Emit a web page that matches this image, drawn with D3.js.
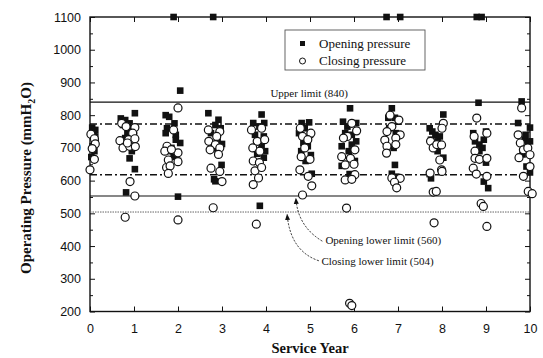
<!DOCTYPE html>
<html>
<head>
<meta charset="utf-8">
<script src="https://cdn.jsdelivr.net/npm/d3@7"></script>
<style>
  body { margin: 0; background: #fff; }
  text { fill: #111; }
</style>
</head>
<body>
<svg id="chart" width="543" height="358"></svg>
<script>
// [service year, pressure in mmH2O]; 1100 = off-scale reading pinned to the top
const openingPressure = [
  [0.05, 762], [0.12, 755], [0.08, 740], [0.13, 720], [0.06, 705], [0.1, 690], [0.03, 672], [0.12, 735],
  [0.7, 790], [0.8, 785], [1.02, 806], [0.75, 770], [0.9, 775], [0.95, 760], [0.85, 745], [1.0, 740],
  [0.8, 730], [0.9, 668], [1.02, 635], [0.82, 564], [0.95, 690],
  [1.9, 1100], [2.05, 875], [1.72, 800], [1.8, 795], [1.92, 775], [1.75, 760], [1.72, 745], [1.95, 740],
  [2.05, 715], [1.85, 700], [1.9, 673], [2.0, 660], [1.78, 690], [2.0, 551], [1.95, 725],
  [2.8, 1100], [2.69, 806], [2.92, 786], [2.85, 770], [2.97, 760], [2.75, 745], [2.9, 725], [3.0, 712],
  [2.8, 700], [2.99, 648], [2.82, 604], [2.85, 598], [2.9, 690],
  [3.9, 802], [3.71, 776], [3.96, 776], [3.85, 765], [3.75, 740], [3.95, 735], [3.9, 705], [3.98, 690],
  [3.8, 682], [3.86, 523], [3.95, 670],
  [4.81, 776], [4.98, 778], [4.88, 760], [4.75, 745], [5.0, 740], [4.85, 715], [4.95, 705], [4.8, 690],
  [5.02, 678], [4.9, 660], [5.04, 621], [4.92, 730],
  [5.91, 821], [5.75, 780], [6.05, 776], [5.85, 765], [5.8, 745], [5.95, 740], [6.05, 720], [5.72, 705],
  [5.88, 690], [6.02, 660], [5.72, 645], [5.9, 620], [5.95, 710],
  [6.74, 1100], [7.05, 1100], [6.86, 821], [6.78, 792], [6.93, 792], [7.0, 780], [6.8, 760], [6.95, 745],
  [6.72, 720], [6.9, 700], [6.93, 648], [6.86, 621], [6.96, 612],
  [8.03, 802], [7.72, 760], [7.78, 750], [7.85, 740], [7.75, 725], [7.95, 735], [7.8, 705], [7.9, 690],
  [8.03, 670], [7.72, 620], [7.75, 607], [7.9, 720],
  [8.79, 1100], [8.9, 1100], [8.83, 838], [8.71, 745], [9.0, 750], [8.75, 720], [8.95, 725], [8.85, 710],
  [8.92, 700], [9.0, 655], [8.95, 597], [9.05, 577], [8.85, 690],
  [9.81, 842], [9.73, 776], [10.0, 762], [9.88, 725], [10.0, 720], [9.95, 710], [9.92, 643], [10.0, 625],
  [9.83, 680], [9.9, 740]
];

const closingPressure = [
  [0.02, 742], [0.1, 728], [0.12, 712], [0.05, 698], [0.1, 665], [0.0, 633],
  [0.72, 775], [0.82, 765], [1.02, 762], [0.97, 745], [0.68, 722], [0.88, 725], [1.02, 728], [0.75, 700],
  [0.9, 705], [1.03, 704], [0.85, 715], [0.91, 597], [1.02, 553], [0.8, 488],
  [2.0, 822], [1.75, 705], [1.7, 690], [2.0, 685], [1.85, 695], [2.0, 658], [1.78, 663], [1.74, 640],
  [1.82, 645], [1.78, 622], [1.9, 755], [2.0, 480],
  [2.69, 755], [2.95, 750], [2.88, 735], [2.7, 720], [2.85, 710], [2.95, 700], [2.73, 694], [2.92, 680],
  [2.75, 638], [2.95, 628], [3.0, 597], [2.8, 517],
  [3.67, 755], [3.9, 760], [3.8, 720], [3.97, 725], [3.7, 700], [3.86, 690], [3.71, 660], [3.85, 655],
  [3.75, 630], [3.9, 640], [3.83, 608], [3.71, 588], [3.78, 467],
  [4.78, 760], [5.02, 745], [4.83, 735], [4.95, 725], [4.88, 700], [4.8, 673], [5.0, 665], [4.77, 633],
  [4.96, 613], [5.04, 584], [4.83, 556],
  [5.95, 775], [6.06, 752], [5.85, 735], [5.76, 730], [6.02, 694], [5.72, 673], [5.92, 668], [5.8, 648],
  [6.0, 650], [6.02, 618], [5.8, 602], [5.95, 604], [5.83, 516], [5.9, 225], [5.95, 218],
  [6.82, 800], [7.02, 785], [6.86, 765], [6.75, 750], [7.05, 740], [6.7, 724], [6.95, 730], [6.75, 705],
  [6.95, 710], [6.74, 684], [6.86, 608], [7.05, 607], [6.92, 595], [6.97, 578],
  [8.03, 775], [8.0, 760], [7.74, 720], [7.8, 700], [7.88, 710], [7.99, 709], [7.95, 663], [7.99, 633],
  [7.73, 623], [8.0, 628], [7.8, 565], [7.87, 567], [7.82, 471],
  [8.79, 791], [9.02, 745], [8.73, 735], [8.75, 690], [8.75, 668], [8.85, 665], [9.02, 668], [8.71, 638],
  [8.78, 620], [9.02, 613], [8.89, 530], [8.94, 521], [9.02, 460],
  [9.81, 822], [9.73, 740], [9.78, 715], [9.85, 694], [9.95, 700], [10.0, 679], [9.75, 670], [10.0, 643],
  [9.85, 613], [9.96, 567], [10.05, 560]
];

const xTicks = [0, 1, 2, 3, 4, 5, 6, 7, 8, 9, 10];
const yTicks = [200, 300, 400, 500, 600, 700, 800, 900, 1000, 1100];
const yMinorTicks = [250, 350, 450, 550, 650, 750, 850, 950, 1050];

const upperLimit = 840;
const bandTop = 773;
const bandBottom = 618;
const openingLowerLimit = 553;
const closingLowerLimit = 504;

const seriesNames = ['Opening pressure', 'Closing pressure'];

const width = 543, height = 358;
const margin = { top: 17, right: 13, bottom: 46.5, left: 90 };

const svg = d3.select('#chart');

const x = d3.scaleLinear().domain([0, 10]).range([margin.left, width - margin.right]);
const y = d3.scaleLinear().domain([200, 1100]).range([height - margin.bottom, margin.top]);

const serif = '"Liberation Serif", "Times New Roman", serif';
const sans = '"Liberation Sans", Arial, sans-serif';

// axes, ticks pointing inward
function styleAxis(g) {
  g.select('.domain').remove();
  g.selectAll('line').attr('stroke', '#111').attr('stroke-width', 1);
  g.selectAll('text').attr('font-family', sans).attr('font-size', 12.5).attr('fill', '#111');
}

svg.append('g')
  .attr('transform', `translate(0,${y(200)})`)
  .call(d3.axisBottom(x).tickValues(xTicks).tickSize(-5).tickPadding(13).tickFormat(d3.format('d')))
  .call(styleAxis);

svg.append('g')
  .attr('transform', `translate(0,${y(1100)})`)
  .call(d3.axisTop(x).tickValues(xTicks).tickSize(-5).tickFormat(''))
  .call(styleAxis);

svg.append('g')
  .attr('transform', `translate(${x(0)},0)`)
  .call(d3.axisLeft(y).tickValues(yTicks).tickSize(-5).tickPadding(9).tickFormat(d3.format('d')))
  .call(styleAxis);

svg.append('g')
  .attr('transform', `translate(${x(0)},0)`)
  .call(d3.axisLeft(y).tickValues(yMinorTicks).tickSize(-3).tickFormat(''))
  .call(styleAxis);

svg.append('g')
  .attr('transform', `translate(${x(10)},0)`)
  .call(d3.axisRight(y).tickValues(yTicks).tickSize(-5).tickFormat(''))
  .call(styleAxis);

svg.append('g')
  .attr('transform', `translate(${x(10)},0)`)
  .call(d3.axisRight(y).tickValues(yMinorTicks).tickSize(-3).tickFormat(''))
  .call(styleAxis);

// frame
svg.append('rect')
  .attr('x', x(0)).attr('y', y(1100))
  .attr('width', x(10) - x(0)).attr('height', y(200) - y(1100))
  .attr('fill', 'none').attr('stroke', '#111').attr('stroke-width', 1.4);

// limit lines
const hline = (v, dash, w, color) => svg.append('line')
  .attr('x1', x(0)).attr('x2', x(10))
  .attr('y1', y(v)).attr('y2', y(v))
  .attr('stroke', color).attr('stroke-width', w)
  .attr('stroke-dasharray', dash);

hline(upperLimit, null, 1.4, '#111');
hline(bandTop, '7,3,2,3', 1.5, '#111');
hline(bandBottom, '7,3,2,3', 1.5, '#111');
hline(openingLowerLimit, null, 1.2, '#111');
hline(closingLowerLimit, '1.5,1', 1, '#666');

// points
svg.append('g')
  .selectAll('rect')
  .data(openingPressure)
  .join('rect')
  .attr('x', d => x(d[0]) - 3.3)
  .attr('y', d => y(d[1]) - 3.3)
  .attr('width', 6.6).attr('height', 6.6)
  .attr('fill', '#111');

svg.append('g')
  .selectAll('circle')
  .data(closingPressure)
  .join('circle')
  .attr('cx', d => x(d[0]))
  .attr('cy', d => y(d[1]))
  .attr('r', 4)
  .attr('fill', '#fff')
  .attr('stroke', '#111')
  .attr('stroke-width', 1.2);

// legend
const legend = svg.append('g');
legend.append('rect')
  .attr('x', 285).attr('y', 30).attr('width', 140).attr('height', 40)
  .attr('fill', '#fff').attr('stroke', '#555').attr('stroke-width', 0.9);
legend.append('rect').attr('x', 300).attr('y', 41).attr('width', 5).attr('height', 5).attr('fill', '#111');
legend.append('circle').attr('cx', 302.5).attr('cy', 61).attr('r', 3)
  .attr('fill', '#fff').attr('stroke', '#111').attr('stroke-width', 1);
legend.selectAll('text.lg')
  .data(seriesNames)
  .join('text')
  .attr('class', 'lg')
  .attr('x', 319).attr('y', (d, i) => 48 + i * 17)
  .attr('font-family', serif).attr('font-size', 13)
  .text(d => d);

// annotations
svg.append('text')
  .attr('x', x(4.1)).attr('y', y(upperLimit) - 5)
  .attr('font-family', serif).attr('font-size', 11)
  .text('Upper limit (840)');

svg.append('text')
  .attr('x', x(5.35)).attr('y', y(405))
  .attr('font-family', serif).attr('font-size', 11)
  .text('Opening lower limit (560)');

svg.append('text')
  .attr('x', x(5.26)).attr('y', y(343))
  .attr('font-family', serif).attr('font-size', 11)
  .text('Closing lower limit (504)');

svg.append('defs').append('marker')
  .attr('id', 'ah').attr('viewBox', '0 0 10 10')
  .attr('refX', 9).attr('refY', 5)
  .attr('markerWidth', 7).attr('markerHeight', 7)
  .attr('orient', 'auto')
  .append('path').attr('d', 'M0,1 L10,5 L0,9 z').attr('fill', '#111');

const arrow = (x0, y0, cx, cy, x1, y1) => svg.append('path')
  .attr('d', `M${x(x0)},${y(y0)} Q${x(cx)},${y(cy)} ${x(x1)},${y(y1)}`)
  .attr('fill', 'none').attr('stroke', '#111').attr('stroke-width', 0.9)
  .attr('stroke-dasharray', '2,1.5')
  .attr('marker-end', 'url(#ah)');

arrow(5.28, 415, 4.72, 460, 4.68, 546);
arrow(5.2, 355, 4.55, 385, 4.48, 497);

// axis titles; y title measured and centred by hand since it mixes tspans
const yTitle = svg.append('text')
  .attr('font-family', serif).attr('font-size', 15).attr('font-weight', 'bold');
yTitle.append('tspan').text('Operating Pressure (mmH');
yTitle.append('tspan').attr('font-size', 10).attr('dy', 4).text('2');
yTitle.append('tspan').attr('dy', -4).text('O)');
const titleLen = yTitle.node().getComputedTextLength();
yTitle.attr('x', -titleLen / 2)
  .attr('transform', `translate(31,178) rotate(-90)`);

svg.append('text')
  .attr('x', (x(0) + x(10)) / 2).attr('y', 353)
  .attr('text-anchor', 'middle')
  .attr('font-family', serif).attr('font-size', 14.5).attr('font-weight', 'bold')
  .text('Service Year');
</script>
</body>
</html>
